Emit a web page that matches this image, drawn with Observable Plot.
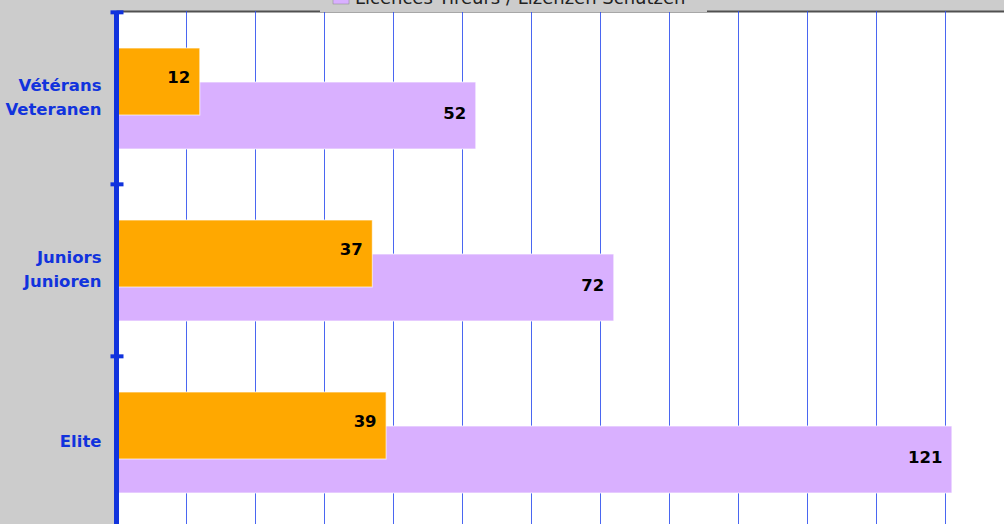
<!DOCTYPE html>
<html><head><meta charset="utf-8">
<script src="https://cdn.jsdelivr.net/npm/d3@7"></script>
<script src="https://cdn.jsdelivr.net/npm/@observablehq/plot@0.6"></script>
<style>
html,body{margin:0;padding:0;overflow:hidden;background:#cccccc;width:1004px;height:524px;}
#wrap{position:relative;width:1004px;height:524px;overflow:hidden;}
#wrap svg{display:block;max-width:none !important;}
#legend{position:absolute;left:320px;top:0;}
</style></head>
<body>
<div id="wrap"><div id="chart"></div><svg id="legend" width="387" height="12"></svg></div>
<script>
const categories = ["Vétérans\nVeteranen", "Juniors\nJunioren", "Elite"];
const seriesOrange = [12, 37, 39];
const licencesTireurs = [52, 72, 121];
const xTicks = [10, 20, 30, 40, 50, 60, 70, 80, 90, 100, 110, 120, 130];
const legendLabel = "Licences Tireurs / Lizenzen Schützen";

const rows = categories.map((c, i) => ({cat: c, a: seriesOrange[i], b: licencesTireurs[i]}));
const W = 1010, H = 530, mT = 11, mB = 2, mL = 117;
const bandH = (H - mB - mT) / categories.length;
const blue = "#1133dd";
const orange = "#ffa800", purple = "#d9b0ff";

const chart = Plot.plot({
  width: W, height: H, marginLeft: mL, marginTop: mT, marginRight: 0, marginBottom: mB,
  style: {background: "transparent", fontFamily: "DejaVu Sans", fontSize: "16px", maxWidth: "none"},
  x: {domain: [0, 130], range: [mL, mL + 6.9 * 130], axis: null},
  y: {type: "band", domain: categories, padding: 0},
  marks: [
    Plot.frame({fill: "white", stroke: "#505050", strokeWidth: 2}),
    Plot.gridX(xTicks, {stroke: "#2a4bef", strokeOpacity: 0.85, strokeWidth: 1}),
    Plot.barX(rows, {x: "b", y: "cat", fill: purple, stroke: "#fff", strokeOpacity: 0.7, insetTop: 70, insetBottom: 35}),
    Plot.barX(rows, {x: "a", y: "cat", fill: orange, stroke: "#fff", strokeOpacity: 0.7, insetTop: 36, insetBottom: 69}),
    Plot.text(rows, {x: "b", y: "cat", text: "b", dx: -10, dy: 15, textAnchor: "end", fontWeight: "bold", fill: "black", fontSize: 16.5}),
    Plot.text(rows, {x: "a", y: "cat", text: "a", dx: -10, dy: -21, textAnchor: "end", fontWeight: "bold", fill: "black", fontSize: 16.5}),
    Plot.ruleX([0], {stroke: blue, strokeWidth: 5, dx: -1}),
    Plot.axisY({tickSize: 13, dx: 6.5, dy: -bandH / 2, fill: "none", stroke: blue, strokeWidth: 4, label: null}),
    Plot.axisY({tickSize: 0, tickPadding: 16, dy: -3, fill: blue, fontWeight: "bold", fontSize: 16.5, lineHeight: 1.45, label: null})
  ]
});
document.getElementById("chart").appendChild(chart);

const lg = d3.select("#legend");
lg.append("rect").attr("width", 387).attr("height", 12).attr("fill", "#cccccc");
lg.append("rect").attr("x", 13).attr("y", -12).attr("width", 16).attr("height", 16).attr("fill", purple).attr("stroke", "#888").attr("stroke-width", 0.5);
lg.append("text").attr("x", 35).attr("y", 4).attr("font-family", "DejaVu Sans").attr("font-size", 18).attr("fill", "#222").text(legendLabel);
</script>
</body></html>
